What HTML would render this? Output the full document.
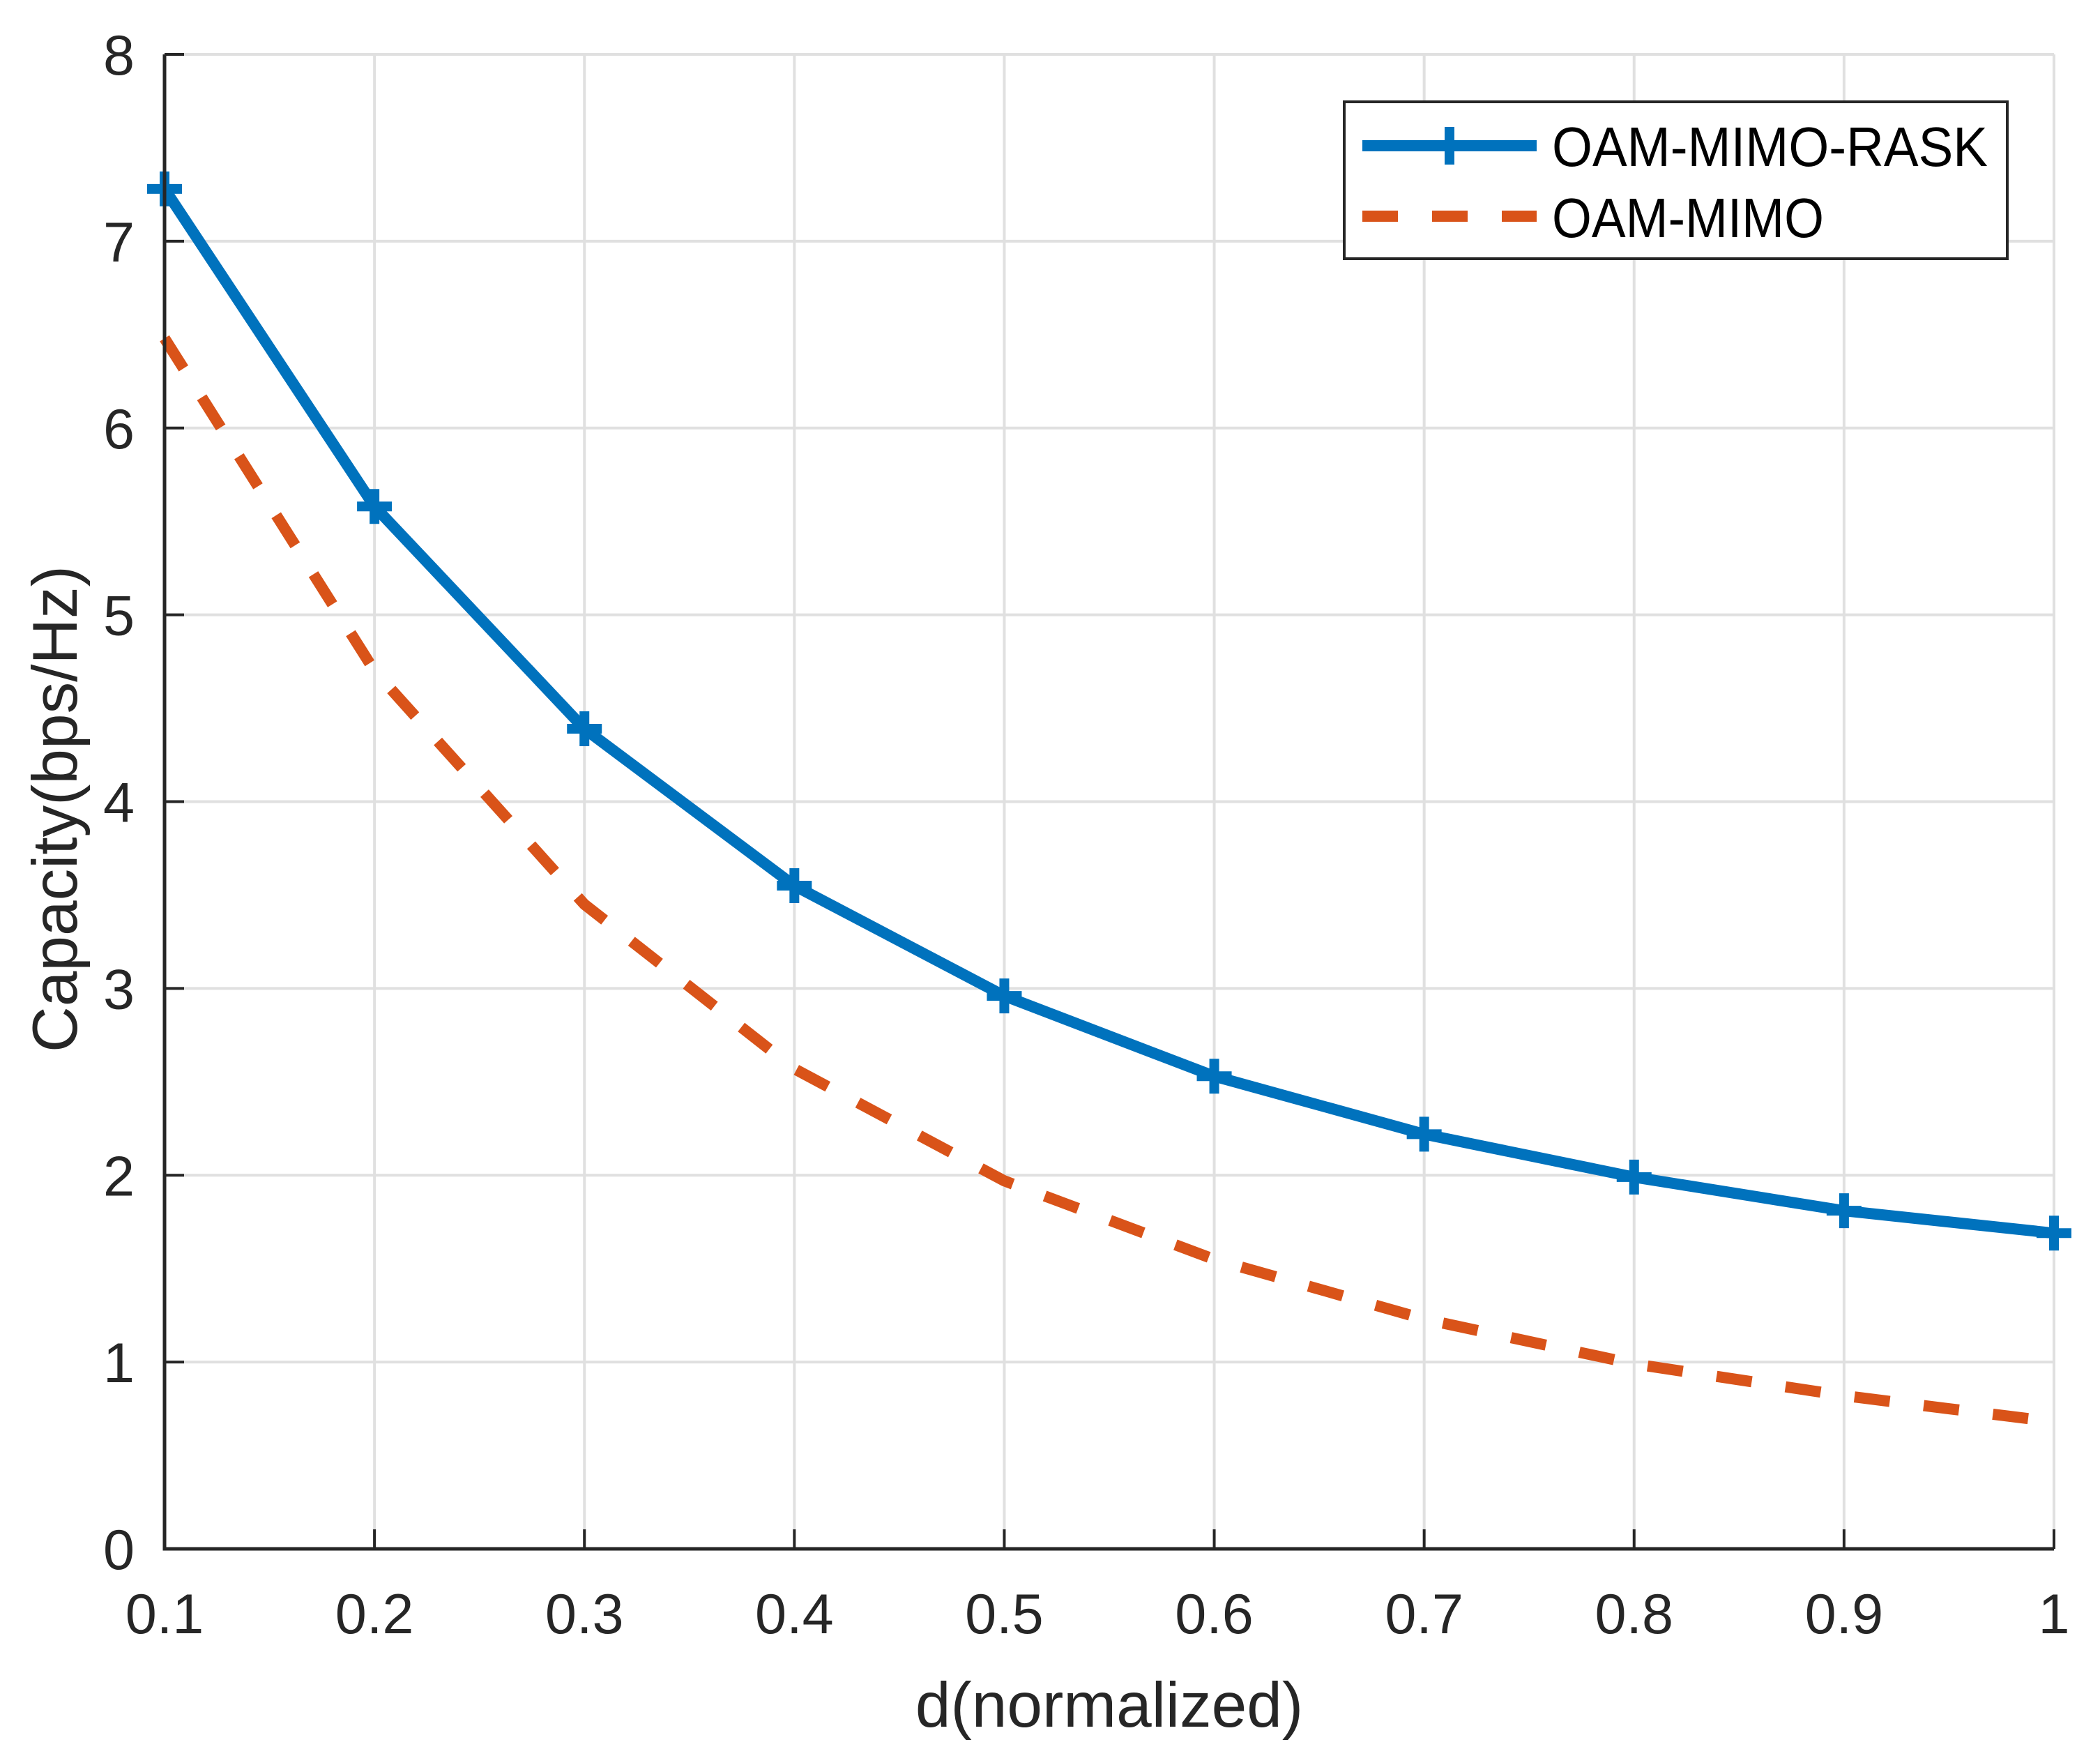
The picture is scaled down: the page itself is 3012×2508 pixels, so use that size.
<!DOCTYPE html>
<html><head><meta charset="utf-8"><style>
html,body{margin:0;padding:0;background:#fff;}
svg{display:block;font-family:"Liberation Sans",Arial,sans-serif;}
</style></head><body>
<svg id="chart" width="3012" height="2508" viewBox="0 0 3012 2508" xmlns="http://www.w3.org/2000/svg">
<rect width="3012" height="2508" fill="#fff"/>
<g id="grid"></g>
<g id="series"></g>
<g id="axes"></g>
<text x="1591" y="2476" font-size="91" text-anchor="middle" fill="#262626">d(normalized)</text>
<text x="0" y="0" font-size="91" text-anchor="middle" fill="#262626" transform="translate(110,1160) rotate(-90)">Capacity(bps/Hz)</text>
<g>
<rect x="1928" y="146" width="951" height="225" fill="#fff" stroke="#262626" stroke-width="4"/>
<line x1="1954" y1="209" x2="2204" y2="209" stroke="#0072BD" stroke-width="16"/>
<path d="M2079 182 V236 M2052 209 H2106" stroke="#0072BD" stroke-width="14"/>
<line x1="1954" y1="310" x2="2204" y2="310" stroke="#D95319" stroke-width="16" stroke-dasharray="51,49"/>
<text x="2226" y="238" font-size="80" fill="#000" textLength="625" lengthAdjust="spacingAndGlyphs">OAM-MIMO-RASK</text>
<text x="2226" y="340" font-size="80" fill="#000" textLength="390" lengthAdjust="spacingAndGlyphs">OAM-MIMO</text>
</g>
</svg>
<script>
const xValues = [0.1,0.2,0.3,0.4,0.5,0.6,0.7,0.8,0.9,1.0];
const raskValues = [7.28,5.58,4.39,3.55,2.96,2.53,2.22,1.99,1.81,1.69];
const mimoValues = [6.48,4.70,3.45,2.57,1.97,1.55,1.23,0.99,0.82,0.68];
const xTickValues = [0.1,0.2,0.3,0.4,0.5,0.6,0.7,0.8,0.9,1];
const xTickLabels = ["0.1","0.2","0.3","0.4","0.5","0.6","0.7","0.8","0.9","1"];
const yTickValues = [0,1,2,3,4,5,6,7,8];
const yTickLabels = ["0","1","2","3","4","5","6","7","8"];

const L=236,R=2946,T=78,B=2221;
const X0=0.1,X1=1,Y0=0,Y1=8;
function sx(v){return L+(v-X0)/(X1-X0)*(R-L);}
function sy(v){return B-(v-Y0)/(Y1-Y0)*(B-T);}
const NS="http://www.w3.org/2000/svg";
function mk(tag,attrs,parent){const e=document.createElementNS(NS,tag);for(const k in attrs)e.setAttribute(k,attrs[k]);parent.appendChild(e);return e;}
const grid=document.getElementById('grid'),axes=document.getElementById('axes'),series=document.getElementById('series');

xTickValues.forEach((v,i)=>{
  const x=sx(v);
  const g=mk('line',{x1:x,y1:T,x2:x,y2:B,stroke:'#e0e0e0','stroke-width':4},grid);
  
  
  const t=mk('line',{x1:x,y1:B,x2:x,y2:B-28,stroke:'#262626','stroke-width':4},axes);
  
  
  const lb=mk('text',{x:x,y:2342,'font-size':81,'text-anchor':'middle',fill:'#262626'},axes);
  lb.textContent=xTickLabels[i];
  
  
});
yTickValues.forEach((v,i)=>{
  const y=sy(v);
  const g=mk('line',{x1:L,y1:y,x2:R,y2:y,stroke:'#e0e0e0','stroke-width':4},grid);
  
  
  const t=mk('line',{x1:L,y1:y,x2:L+28,y2:y,stroke:'#262626','stroke-width':4},axes);
  
  
  const lb=mk('text',{x:193,y:y+29,'font-size':81,'text-anchor':'end',fill:'#262626'},axes);
  lb.textContent=yTickLabels[i];
  
  
});
const ax=mk('path',{d:`M${L} ${T} V${B} H${R}`,fill:'none',stroke:'#262626','stroke-width':5},axes);



const mimoPts=xValues.map((x,i)=>sx(x)+','+sy(mimoValues[i])).join(' ');
const mimoLine=mk('polyline',{points:mimoPts,fill:'none',stroke:'#D95319','stroke-width':16,'stroke-dasharray':'51,49','stroke-linejoin':'round'},series);



const raskPts=xValues.map((x,i)=>sx(x)+','+sy(raskValues[i])).join(' ');
const raskLine=mk('polyline',{points:raskPts,fill:'none',stroke:'#0072BD','stroke-width':16,'stroke-linejoin':'round'},series);


xValues.forEach((x,i)=>{
  const cx=sx(x),cy=sy(raskValues[i]);
  const m=mk('path',{d:`M${cx} ${cy-25} V${cy+25} M${cx-25} ${cy} H${cx+25}`,stroke:'#0072BD','stroke-width':14},series);
  
  
});
</script>
</body></html>
